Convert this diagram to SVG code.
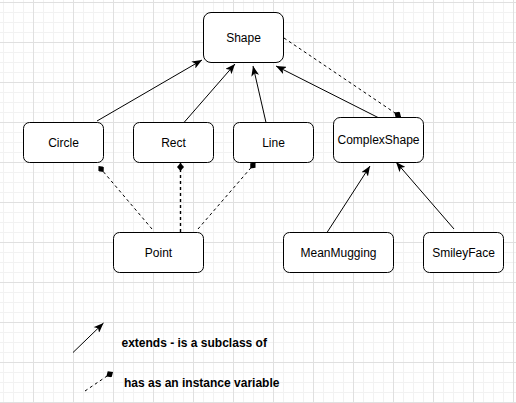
<svg xmlns="http://www.w3.org/2000/svg" width="516" height="403" viewBox="0 0 516 403">
  <style>
    .node rect { fill: #ffffff; stroke: #000000; stroke-width: 1; }
    .node text { font-family: "Liberation Sans", Arial, sans-serif; font-size: 12px; fill: #000000; text-anchor: middle; dominant-baseline: central; }
    .ext { stroke: #000000; stroke-width: 1; fill: none; marker-end: url(#arrow); }
    .has { stroke: #000000; stroke-width: 1; stroke-dasharray: 3 3; fill: none; marker-end: url(#diamond); }
    .legend { font-family: "Liberation Sans", Arial, sans-serif; font-size: 12px; font-weight: bold; fill: #000000; dominant-baseline: central; }
  </style>
  <defs>
    <pattern id="grid" x="33" y="2" width="40" height="40" patternUnits="userSpaceOnUse">
      <path d="M10.5,0 V40 M20.5,0 V40 M30.5,0 V40 M0,10.5 H40 M0,20.5 H40 M0,30.5 H40" stroke="#f2f2f2" stroke-width="1" fill="none"/>
      <path d="M0.5,0 V40 M0,0.5 H40" stroke="#e0e0e0" stroke-width="1" fill="none"/>
    </pattern>
    <marker id="arrow" viewBox="0 0 10 8" markerWidth="10" markerHeight="8" refX="10" refY="4" orient="auto" markerUnits="userSpaceOnUse">
      <path d="M0,0 L10,4 L0,8 L2.5,4 Z" fill="#000000"/>
    </marker>
    <marker id="diamond" viewBox="0 0 8 7" markerWidth="8" markerHeight="7" refX="8" refY="3.5" orient="auto" markerUnits="userSpaceOnUse">
      <path d="M0,3.5 L4,0 L8,3.5 L4,7 Z" fill="#000000"/>
    </marker>
  </defs>
  <rect x="0" y="0" width="516" height="403" fill="#ffffff"/>
  <rect x="0" y="0" width="516" height="403" fill="url(#grid)"/>

  <g id="connectors">
    <line class="ext" x1="97" y1="121" x2="202" y2="60"/>
    <line class="ext" x1="184" y1="122.5" x2="235" y2="64"/>
    <line class="ext" x1="266" y1="122.5" x2="253" y2="66"/>
    <line class="ext" x1="378" y1="117.5" x2="276" y2="66"/>
    <line class="ext" x1="327" y1="232.5" x2="370" y2="166"/>
    <line class="ext" x1="454" y1="229" x2="396" y2="162"/>
    <line class="has" x1="284" y1="38" x2="401" y2="117"/>
    <line class="has" x1="152" y1="229" x2="98.5" y2="166"/>
    <line class="has" x1="180.5" y1="232" x2="180.5" y2="163" style="stroke-width:1.4"/>
    <line class="has" x1="198" y1="229" x2="255.5" y2="162.5"/>
  </g>

  <g id="Shape" class="node">
    <rect x="203.5" y="12.5" width="80" height="50" rx="7.5" ry="7.5"/>
    <text x="243.5" y="37.5">Shape</text>
  </g>
  <g id="Circle" class="node">
    <rect x="23.5" y="122.5" width="80" height="40" rx="6" ry="6"/>
    <text x="63.5" y="142.5">Circle</text>
  </g>
  <g id="Rect" class="node">
    <rect x="133.5" y="122.5" width="80" height="40" rx="6" ry="6"/>
    <text x="173.5" y="142.5">Rect</text>
  </g>
  <g id="Line" class="node">
    <rect x="233.5" y="122.5" width="80" height="40" rx="6" ry="6"/>
    <text x="273.5" y="142.5">Line</text>
  </g>
  <g id="ComplexShape" class="node">
    <rect x="333.5" y="117.5" width="90" height="45" rx="6.75" ry="6.75"/>
    <text x="378.5" y="140">ComplexShape</text>
  </g>
  <g id="Point" class="node">
    <rect x="113.5" y="232.5" width="90" height="40" rx="6" ry="6"/>
    <text x="158.5" y="252.5">Point</text>
  </g>
  <g id="MeanMugging" class="node">
    <rect x="283.5" y="232.5" width="110" height="40" rx="6" ry="6"/>
    <text x="338.5" y="252.5">MeanMugging</text>
  </g>
  <g id="SmileyFace" class="node">
    <rect x="423.5" y="232.5" width="80" height="40" rx="6" ry="6"/>
    <text x="463.5" y="252.5">SmileyFace</text>
  </g>

  <g id="legend">
    <line class="ext" x1="73" y1="352.5" x2="103.5" y2="323"/>
    <text class="legend" x="121.5" y="342.5">extends - is a subclass of</text>
    <line class="has" x1="85" y1="391" x2="113" y2="372"/>
    <text class="legend" x="124" y="382.5">has as an instance variable</text>
  </g>
</svg>
